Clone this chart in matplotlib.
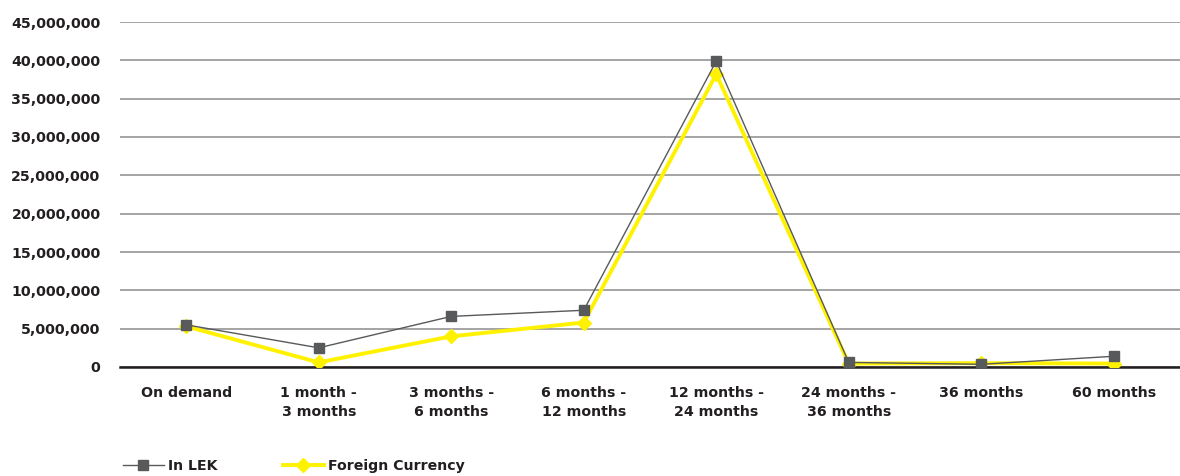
import matplotlib
matplotlib.use("Agg")
import matplotlib.pyplot as plt
from matplotlib.ticker import FuncFormatter

categories = [
    "On demand",
    "1 month -\n3 months",
    "3 months -\n6 months",
    "6 months -\n12 months",
    "12 months -\n24 months",
    "24 months -\n36 months",
    "36 months",
    "60 months",
]
in_lek = [5500000, 2500000, 6600000, 7400000, 39900000, 600000, 350000, 1400000]
foreign_currency = [5300000, 600000, 4000000, 5800000, 38200000, 450000, 500000, 450000]
yticks = list(range(0, 45000001, 5000000))

text_color = "#231f20"
plt.rcParams["font.family"] = ["DejaVu Sans"]
fsize = 10.2

fig = plt.figure(figsize=(11.8, 4.76), dpi=100)
ax = fig.add_axes([120 / 1180, 1 - 367 / 476, 1060 / 1180, 345 / 476])

x = range(len(categories))
ax.plot(x, in_lek, color="#58595b", lw=1, marker="s", ms=7,
        label="In LEK", zorder=3)
ax.plot(x, foreign_currency, color="#fff200", lw=2.8, marker="D", ms=7.5,
        label="Foreign Currency", zorder=2)

ax.set_xlim(-0.5, len(categories) - 0.5)
ax.set_ylim(0, 45000000)
ax.set_yticks(yticks)
ax.yaxis.set_major_formatter(FuncFormatter(lambda v, p: f"{int(v):,}"))
ax.set_xticks(list(x))
ax.set_xticklabels(categories, fontsize=fsize, fontweight="bold",
                   color=text_color, linespacing=1.4)
ax.tick_params(axis="y", length=0, pad=14, labelsize=fsize, labelcolor=text_color)
ax.tick_params(axis="x", length=0, pad=14)
for lab in ax.get_yticklabels():
    lab.set_fontweight("bold")

ax.grid(axis="y", color="#8c8c8c", lw=1.1)
ax.set_axisbelow(True)
for side in ["top", "right", "left"]:
    ax.spines[side].set_visible(False)
ax.spines["bottom"].set_color("#231f20")
ax.spines["bottom"].set_linewidth(1.8)
ax.spines["bottom"].set_zorder(1)

leg = fig.legend(loc="lower left", bbox_to_anchor=(110 / 1180, -0.02), ncol=2,
                 frameon=False, handlelength=2.9, handletextpad=0.3,
                 columnspacing=4.6,
                 prop={"weight": "bold", "size": fsize})
for t in leg.get_texts():
    t.set_color(text_color)

fig.savefig("out.png", dpi=100)
